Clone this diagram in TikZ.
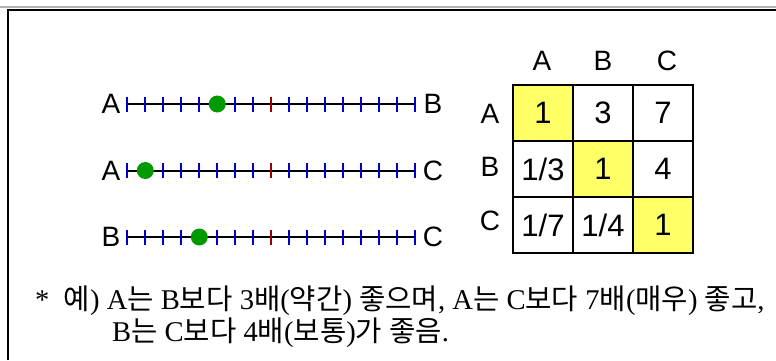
\documentclass[tikz,border=0pt]{standalone}
\usepackage{fontspec}
\usetikzlibrary{calc}
\setmainfont{Liberation Serif}
\setsansfont{Liberation Sans}
\newfontfamily\kr{Noto Sans CJK KR}
\definecolor{cellyellow}{HTML}{FFFF66}
\definecolor{tickblue}{HTML}{0000CC}
\definecolor{tickred}{HTML}{990000}
\definecolor{dotgreen}{HTML}{009900}
\begin{document}
\begin{tikzpicture}[x=1pt,y=-1pt,
  lbl/.style={font=\sffamily\fontsize{28}{28}\selectfont, inner sep=0pt},
  hdr/.style={font=\sffamily\fontsize{28}{28}\selectfont, inner sep=0pt},
  cell/.style={draw=black, line width=2pt, minimum width=60pt, minimum height=56pt, inner sep=0pt, font=\sffamily\fontsize{31}{31}\selectfont},
  diag/.style={cell, fill=cellyellow},
  scaleline/.style={line width=2pt, black},
  tickb/.style={line width=2pt, tickblue},
  tickr/.style={line width=2pt, tickred},
  dot/.style={circle, fill=dotgreen, minimum size=17pt, inner sep=0pt},
  note/.style={anchor=west, inner sep=0pt, font=\rmfamily\fontsize{28.6}{28.6}\selectfont}]
\useasboundingbox (0,0) rectangle (776,360);
\fill[white] (0,0) rectangle (776,360);
% frame
\draw[line width=1.5pt, gray!60] (0,7) -- (776,7);
\draw[line width=1.5pt, black] (8,360) -- (8,10) -- (776,10);

% scales
\foreach \n/\y/\l/\r/\d in {1/104/A/B/5, 2/170.5/A/C/1, 3/237/B/C/4}{
  \coordinate (s\n a) at (127.3,\y);
  \coordinate (s\n b) at (415.3,\y);
  \node[lbl] (l\n) at (111,\y) {\l};
  \node[lbl] (r\n) at (433,\y) {\r};
  \draw[scaleline] (s\n a) -- (s\n b);
  \foreach \i in {0,...,16}{
    \ifnum\i=8
      \draw[tickr] ($(s\n a)+(18*\i,-7.5)$) -- ($(s\n a)+(18*\i,7.5)$);
    \else
      \draw[tickb] ($(s\n a)+(18*\i,-7.5)$) -- ($(s\n a)+(18*\i,7.5)$);
    \fi
  }
  \node[dot] (d\n) at ($(s\n a)+(18*\d,0)$) {};
}

% matrix
\node[diag] (c11) at (543,113) {1};
\node[cell] (c12) at (603,113) {3};
\node[cell] (c13) at (663,113) {7};
\node[cell] (c21) at (543,169) {1/3};
\node[diag] (c22) at (603,169) {1};
\node[cell] (c23) at (663,169) {4};
\node[cell] (c31) at (543,225) {1/7};
\node[cell] (c32) at (603,225) {1/4};
\node[diag] (c33) at (663,225) {1};
\node[hdr] (hA) at (542,61) {A};
\node[hdr] (hB) at (603,61) {B};
\node[hdr] (hC) at (667,61) {C};
\node[hdr] (vA) at (490,114) {A};
\node[hdr] (vB) at (490,167) {B};
\node[hdr] (vC) at (490,221) {C};

% note
\node[note] (n1) at (35,301) {*\ \ {\kr 예}) A{\kr 는} B{\kr 보다} 3{\kr 배}({\kr 약간}) {\kr 좋으며}, A{\kr 는} C{\kr 보다} 7{\kr 배}({\kr 매우}) {\kr 좋고},};
\node[note] (n2) at (112,333) {B{\kr 는} C{\kr 보다} 4{\kr 배}({\kr 보통}){\kr 가} {\kr 좋음}.};
\end{tikzpicture}
\end{document}
